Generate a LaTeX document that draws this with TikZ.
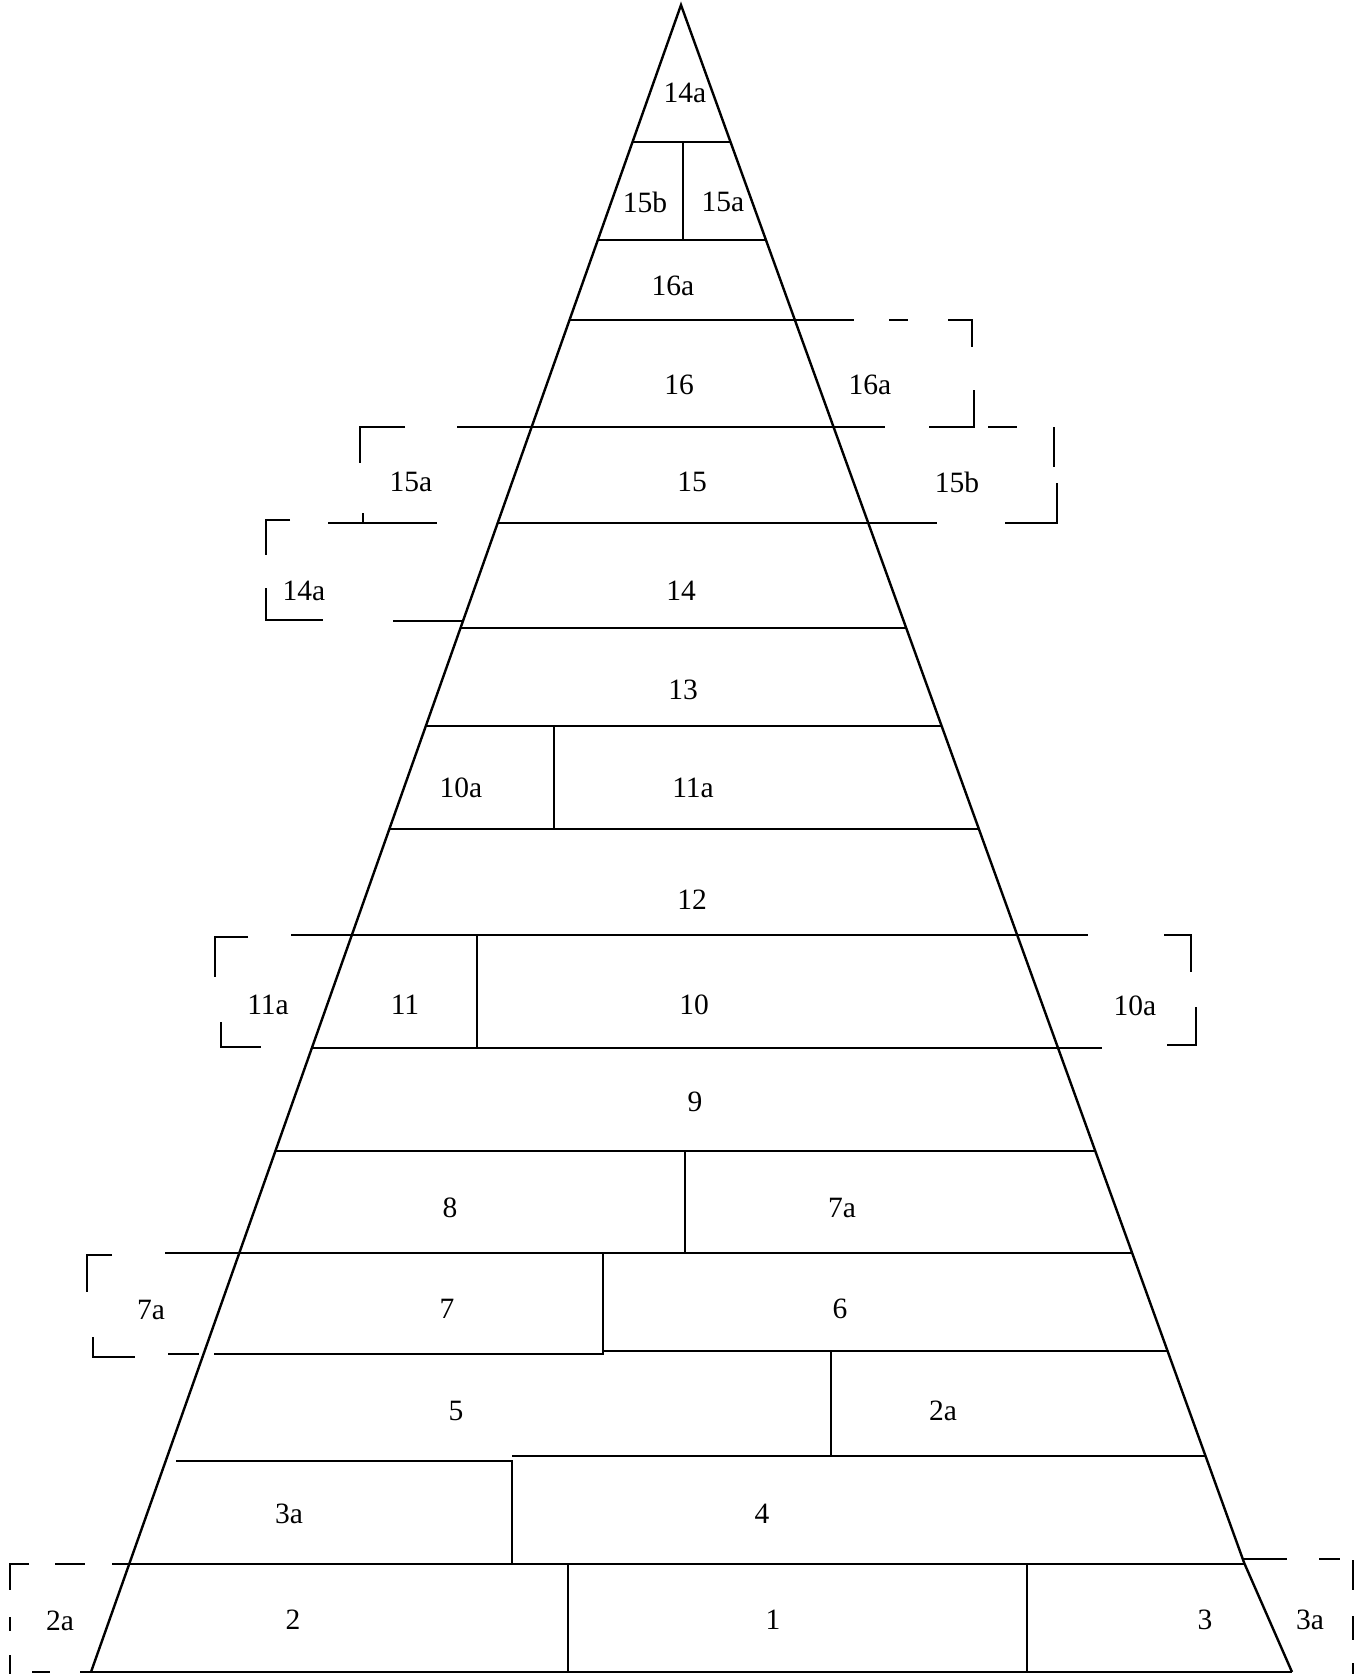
\documentclass[tikz,border=0pt]{standalone}
\usepackage{fontspec}
\setmainfont{Liberation Serif}
\begin{document}
\begin{tikzpicture}[x=1pt,y=-1pt,
  ln/.style={line width=2.4pt, line cap=butt, line join=miter},
  lbl/.style={font=\fontsize{29.5}{30}\selectfont, inner sep=0pt, anchor=center}]
\useasboundingbox (0,0) rectangle (1357,1674);
\coordinate (A) at (681,5);
\coordinate (BL) at (91,1672);
\coordinate (K) at ({681+0.3615*1558},1563);
\coordinate (BR) at (1292,1672);
% triangle
\draw[ln] (BL) -- (A) -- (K) -- (BR);
\draw[ln] (BL) -- (BR);
% horizontal lines (left end / right end on the triangle edges)
\draw[ln] ({681-0.35393*137},142) -- ({681+0.3615*137},142);
\draw[ln] ({681-0.35393*235},240) -- ({681+0.3615*235},240);
\draw[ln] ({681-0.35393*315},320) -- (854,320);
\draw[ln] (457,427) -- (885,427);
\draw[ln] ({681-0.35393*518},523) -- (937,523);
\draw[ln] ({681-0.35393*623},628) -- ({681+0.3615*623},628);
\draw[ln] ({681-0.35393*721},726) -- ({681+0.3615*721},726);
\draw[ln] ({681-0.35393*824},829) -- ({681+0.3615*824},829);
\draw[ln] (291,935) -- (1088,935);
\draw[ln] ({681-0.35393*1043},1048) -- (1102,1048);
\draw[ln] ({681-0.35393*1146},1151) -- ({681+0.3615*1146},1151);
\draw[ln] (165,1253) -- ({681+0.3615*1248},1253);
\draw[ln] (214,1354) -- (603,1354) -- (603,1253);
\draw[ln] (603,1351) -- ({681+0.3615*1346},1351);
\draw[ln] (176,1461) -- (512,1461) -- (512,1564);
\draw[ln] (512,1456) -- ({681+0.3615*1451},1456);
\draw[ln] (112,1564) -- ({681+0.3615*1559},1564);
\draw[ln] ({681+0.3615*1554},1559) -- (1287,1559);
% vertical dividers
\draw[ln] (683,142) -- (683,240);
\draw[ln] (554,726) -- (554,829);
\draw[ln] (477,935) -- (477,1048);
\draw[ln] (685,1151) -- (685,1253);
\draw[ln] (831,1351) -- (831,1456);
\draw[ln] (568,1564) -- (568,1672);
\draw[ln] (1027,1564) -- (1027,1672);
% dashed box 16a (right)
\draw[ln] (889,320) -- (908,320);
\draw[ln] (948,320) -- (972,320) -- (972,347);
\draw[ln] (974,390) -- (974,427) -- (929,427);
% dashed box 15b (right)
\draw[ln] (988,427) -- (1017,427);
\draw[ln] (1054,427) -- (1054,467);
\draw[ln] (1057,483) -- (1057,523) -- (1005,523);
% dashed box 15a (left)
\draw[ln] (405,427) -- (360,427) -- (360,463);
\draw[ln] (328,523) -- (437,523);
\draw[ln] (363,513) -- (363,523);
% dashed box 14a (left)
\draw[ln] (290,520) -- (266,520) -- (266,555);
\draw[ln] (266,588) -- (266,620) -- (323,620);
\draw[ln] (393,621) -- ({681-0.35393*616},621);
% dashed box 11a (left)
\draw[ln] (248,937) -- (215,937) -- (215,977);
\draw[ln] (221,1022) -- (221,1047) -- (261,1047);
% dashed box 10a (right)
\draw[ln] (1164,935) -- (1191,935) -- (1191,972);
\draw[ln] (1196,1007) -- (1196,1045) -- (1167,1045);
% dashed box 7a (left)
\draw[ln] (112,1255) -- (87,1255) -- (87,1292);
\draw[ln] (93,1337) -- (93,1357) -- (135,1357);
\draw[ln] (168,1354) -- (199,1354);
% dashed box 2a (left)
\draw[ln] (29,1564) -- (10,1564) -- (10,1590);
\draw[ln] (55,1564) -- (85,1564);
\draw[ln] (10,1617) -- (10,1631);
\draw[ln] (10,1655) -- (10,1674);
\draw[ln] (32,1672) -- (50,1672);
\draw[ln] (80,1672) -- (91,1672);
% dashed box 3a (right)
\draw[ln] (1319,1559) -- (1340,1559);
\draw[ln] (1353,1560) -- (1353,1590);
\draw[ln] (1353,1616) -- (1353,1640);
\draw[ln] (1353,1663) -- (1353,1674);
% labels
\node[lbl] (t14a) at (685,93) {14a};
\node[lbl] (t15b) at (645,202) {15b};
\node[lbl] (t15a) at (723,202) {15a};
\node[lbl] (t16a) at (673,286) {16a};
\node[lbl] (t16) at (679,385) {16};
\node[lbl] (r16a) at (870,385) {16a};
\node[lbl] (l15a) at (411,482) {15a};
\node[lbl] (t15) at (692,482) {15};
\node[lbl] (r15b) at (957,482) {15b};
\node[lbl] (l14a) at (304,591) {14a};
\node[lbl] (t14) at (681,591) {14};
\node[lbl] (t13) at (683,690) {13};
\node[lbl] (t10a) at (461,788) {10a};
\node[lbl] (t11a) at (693,788) {11a};
\node[lbl] (t12) at (692,900) {12};
\node[lbl] (l11a) at (268,1005) {11a};
\node[lbl] (t11) at (405,1005) {11};
\node[lbl] (t10) at (694,1005) {10};
\node[lbl] (r10a) at (1135,1006) {10a};
\node[lbl] (t9) at (695,1102) {9};
\node[lbl] (t8) at (450,1208) {8};
\node[lbl] (t7a) at (842,1208) {7a};
\node[lbl] (l7a) at (151,1310) {7a};
\node[lbl] (t7) at (447,1309) {7};
\node[lbl] (t6) at (840,1309) {6};
\node[lbl] (t5) at (456,1411) {5};
\node[lbl] (t2a) at (943,1411) {2a};
\node[lbl] (t3a) at (289,1514) {3a};
\node[lbl] (t4) at (762,1514) {4};
\node[lbl] (l2a) at (60,1621) {2a};
\node[lbl] (t2) at (293,1620) {2};
\node[lbl] (t1) at (773,1620) {1};
\node[lbl] (t3) at (1205,1620) {3};
\node[lbl] (r3a) at (1310,1620) {3a};
\end{tikzpicture}
\end{document}
